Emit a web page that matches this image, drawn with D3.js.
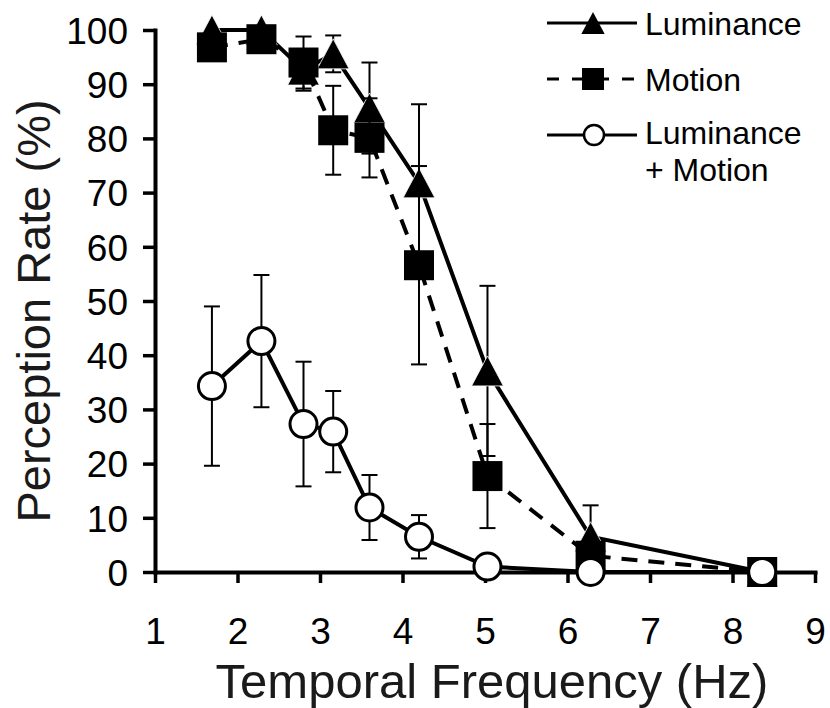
<!DOCTYPE html>
<html>
<head>
<meta charset="utf-8">
<script src="https://cdn.jsdelivr.net/npm/d3@7"></script>
<style>
  html, body { margin: 0; padding: 0; background: #fff; }
  svg { display: block; font-family: "Liberation Sans", Arial, Helvetica, sans-serif; }
</style>
</head>
<body>
<svg id="chart" width="830" height="708"></svg>
<script>
// ---- data ----
const freq = [1.69, 2.29, 2.80, 3.16, 3.60, 4.20, 5.03, 6.28, 8.36];
const luminance = [100, 100, 92.6, 95.6, 85.6, 71.8, 37.1, 6.5, 0];
const luminanceErr = [0, 0, 3.8, 3.4, 8.4, 14.5, 15.7, 5.8, 0];
const motion = [96.8, 98.3, 94.0, 81.5, 80.1, 56.6, 17.7, 3.0, 0];
const motionErr = [0, 0, 4.8, 8.2, 7.3, 18.3, 9.6, 0, 0];
const lumMotion = [34.3, 42.6, 27.3, 25.9, 11.9, 6.5, 1.0, 0, 0];
const lumMotionErr = [14.7, 12.2, 11.5, 7.5, 6.0, 4.0, 0, 0, 0];
const xTicks = [1, 2, 3, 4, 5, 6, 7, 8, 9];
const yTicks = [0, 10, 20, 30, 40, 50, 60, 70, 80, 90, 100];
const seriesNames = ["Luminance", "Motion", "Luminance", "+ Motion"];

const svg = d3.select("#chart");
const x = d3.scaleLinear().domain([1, 9]).range([155, 815]);
const y = d3.scaleLinear().domain([0, 100]).range([572, 30]);

// ---- axes ----
const yAxis = svg.append("g").attr("transform", "translate(155,0)")
  .call(d3.axisLeft(y).tickValues(yTicks).tickSize(12).tickSizeOuter(0).tickPadding(15));
const xAxis = svg.append("g").attr("transform", "translate(0,572)")
  .call(d3.axisBottom(x).tickValues(xTicks).tickSize(11).tickSizeOuter(0).tickPadding(35));
[xAxis, yAxis].forEach(g => {
  g.select(".domain").attr("stroke", "#000").attr("stroke-width", 4).attr("stroke-linecap", "square");
  g.selectAll(".tick line").attr("stroke", "#000").attr("stroke-width", 3.5);
  g.selectAll(".tick text").attr("fill", "#000").attr("font-size", 37)
    .attr("font-family", "'Liberation Sans', Arial, Helvetica, sans-serif");
});
yAxis.selectAll(".tick text").attr("dy", "0.36em");

// axis titles
svg.append("text").attr("transform", "translate(50,311) rotate(-90)")
  .attr("text-anchor", "middle").attr("font-size", 47).attr("fill", "#1a1a1a")
  .text("Perception Rate (%)");
svg.append("text").attr("x", 492).attr("y", 698)
  .attr("text-anchor", "middle").attr("font-size", 49).attr("fill", "#1a1a1a")
  .text("Temporal Frequency (Hz)");

const line = d3.line().x(d => x(d[0])).y(d => y(d[1]));
function pairs(vals) { return freq.map((f, i) => [f, vals[i]]); }

function errorBars(vals, errs) {
  const g = svg.append("g").attr("stroke", "#000").attr("stroke-width", 2);
  freq.forEach((f, i) => {
    if (errs[i] <= 0) return;
    const cx = x(f), y0 = y(vals[i] - errs[i]), y1 = y(vals[i] + errs[i]);
    g.append("line").attr("x1", cx).attr("x2", cx).attr("y1", y0).attr("y2", y1);
    g.append("line").attr("x1", cx - 8).attr("x2", cx + 8).attr("y1", y0).attr("y2", y0);
    g.append("line").attr("x1", cx - 8).attr("x2", cx + 8).attr("y1", y1).attr("y2", y1);
  });
}
const tri = (s) => `M0,${-s/2}L${s*0.53},${s/2}L${-s*0.53},${s/2}Z`;

// ---- Luminance ----
errorBars(luminance, luminanceErr);
svg.append("path").datum(pairs(luminance)).attr("d", line)
  .attr("fill", "none").attr("stroke", "#000").attr("stroke-width", 4);
svg.append("g").selectAll("path").data(pairs(luminance)).join("path")
  .attr("transform", d => `translate(${x(d[0])},${y(d[1])})`)
  .attr("d", tri(30)).attr("fill", "#000").attr("stroke", "#fff").attr("stroke-width", 0.8);

// ---- Motion ----
errorBars(motion, motionErr);
svg.append("path").datum(pairs(motion)).attr("d", line)
  .attr("fill", "none").attr("stroke", "#000").attr("stroke-width", 4)
  .attr("stroke-dasharray", "16,11");
svg.append("g").selectAll("rect").data(pairs(motion)).join("rect")
  .attr("x", d => x(d[0]) - 15).attr("y", d => y(d[1]) - 15)
  .attr("width", 30).attr("height", 30).attr("fill", "#000");

// ---- Luminance + Motion ----
errorBars(lumMotion, lumMotionErr);
svg.append("path").datum(pairs(lumMotion)).attr("d", line)
  .attr("fill", "none").attr("stroke", "#000").attr("stroke-width", 4);
svg.append("g").selectAll("circle").data(pairs(lumMotion)).join("circle")
  .attr("cx", d => x(d[0])).attr("cy", d => y(d[1])).attr("r", 13.5)
  .attr("fill", "#fff").attr("stroke", "#000").attr("stroke-width", 3);

// ---- Legend ----
const lg = svg.append("g");
const lx0 = 547, lx1 = 637, mx = 593, tx = 645, fs = 32;
// row 1
lg.append("line").attr("x1", lx0).attr("x2", lx1).attr("y1", 23).attr("y2", 23)
  .attr("stroke", "#000").attr("stroke-width", 3);
lg.append("path").attr("transform", `translate(${mx},23)`).attr("d", tri(22)).attr("fill", "#000");
lg.append("text").attr("x", tx).attr("y", 35).attr("font-size", fs).text(seriesNames[0]);
// row 2
lg.append("line").attr("x1", lx0).attr("x2", lx1).attr("y1", 79).attr("y2", 79)
  .attr("stroke", "#000").attr("stroke-width", 3).attr("stroke-dasharray", "12,13");
lg.append("rect").attr("x", mx - 11).attr("y", 68).attr("width", 22).attr("height", 22).attr("fill", "#000");
lg.append("text").attr("x", tx).attr("y", 91).attr("font-size", fs).text(seriesNames[1]);
// row 3 (two-line label)
lg.append("line").attr("x1", lx0).attr("x2", lx1).attr("y1", 135).attr("y2", 135)
  .attr("stroke", "#000").attr("stroke-width", 3);
lg.append("circle").attr("cx", mx + 1).attr("cy", 135).attr("r", 10)
  .attr("fill", "#fff").attr("stroke", "#000").attr("stroke-width", 2.5);
lg.append("text").attr("x", tx).attr("y", 144).attr("font-size", fs).text(seriesNames[2]);
lg.append("text").attr("x", tx).attr("y", 181).attr("font-size", fs).text(seriesNames[3]);
</script>
</body>
</html>
